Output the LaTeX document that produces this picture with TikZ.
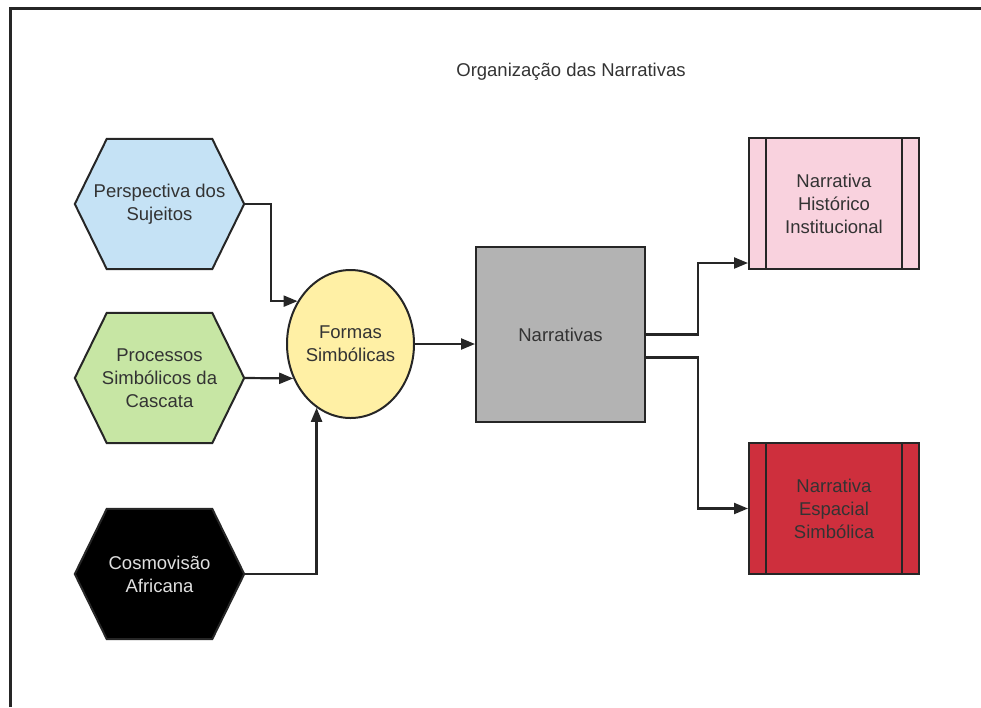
\documentclass[tikz,border=0pt]{standalone}
\usepackage{fontspec}
\setmainfont{Liberation Sans}
\usepackage{xcolor}
\usetikzlibrary{positioning,arrows.meta,shapes.geometric,calc,backgrounds}

\definecolor{hexblue}{HTML}{C5E2F5}
\definecolor{hexgreen}{HTML}{C7E6A4}
\definecolor{formyellow}{HTML}{FFF0A5}
\definecolor{boxgray}{HTML}{B3B3B3}
\definecolor{narrpink}{HTML}{F9D2DE}
\definecolor{narrred}{HTML}{CE2F3D}
\definecolor{txtgray}{HTML}{333333}
\definecolor{edgegray}{HTML}{262626}

\begin{document}
\begin{tikzpicture}[
  x=1pt, y=-1pt,
  font=\fontsize{18.5}{23}\selectfont,
  hexa/.style={rectangle, minimum width=169pt, minimum height=130pt,
               inner sep=0pt, align=center, text=txtgray},
  forma/.style={ellipse, draw=edgegray, line width=2pt, fill=formyellow,
                minimum width=127pt, minimum height=148pt, inner sep=0pt,
                align=center, text=txtgray},
  caixa/.style={rectangle, draw=edgegray, line width=2pt, fill=boxgray,
                minimum width=169pt, minimum height=175pt, text=txtgray},
  narr/.style={rectangle, draw=edgegray, line width=2pt,
               minimum width=170pt, minimum height=131pt, align=center,
               text=txtgray,
               path picture={
                 \draw[edgegray, line width=2pt]
                   ([xshift=17pt]path picture bounding box.north west) --
                   ([xshift=17pt]path picture bounding box.south west)
                   ([xshift=-17pt]path picture bounding box.north east) --
                   ([xshift=-17pt]path picture bounding box.south east);}},
  seta/.style={->, draw=edgegray, line width=2.2pt},
  >={Triangle[length=14pt,width=11pt]}
]
  \useasboundingbox (0,0) rectangle (981,707);
  \draw[line width=3pt, black!85] (10,707) -- (10,8) -- (981,8);

  \node[text=txtgray] (titulo) at (571,72) {Organização das Narrativas};

  \node[hexa] (p) at (159.5,204) {Perspectiva dos\\Sujeitos};
  \node[hexa] (s) at (159.5,378) {Processos\\Simbólicos da\\Cascata};
  \node[hexa, text=black!12] (c) at (159.5,574) {Cosmovisão\\Africana};

  \begin{scope}[on background layer]
    \foreach \nm/\cor in {p/hexblue, s/hexgreen, c/black}
      \filldraw[fill=\cor, draw=edgegray, line width=2pt]
        (\nm.west) -- ([xshift=32pt]\nm.north west) --
        ([xshift=-32pt]\nm.north east) -- (\nm.east) --
        ([xshift=-32pt]\nm.south east) -- ([xshift=32pt]\nm.south west) -- cycle;
  \end{scope}

  \node[forma] (f) at (350.5,344) {Formas\\Simbólicas};
  \node[caixa] (n) at (560.5,334.5) {Narrativas};
  \node[narr, fill=narrpink] (h) at (834,203.5) {Narrativa\\Histórico\\Institucional};
  \node[narr, fill=narrred] (r) at (834,508.5) {Narrativa\\Espacial\\Simbólica};

  \draw[seta] (p.east) -- ++(27,0) |- (f.141);
  \draw[seta] (s.east) -- (f.211);
  \draw[seta] (c.east) -| (f.242);
  \draw[seta] (f.east) -- (f.east -| n.west);
  \draw[seta] (n.east) -- ++(52,0) |- ([yshift=7pt]h.south west);
  \draw[seta] ([yshift=-23pt]n.east) -- ++(52,0) |- (r.west);
\end{tikzpicture}
\end{document}
